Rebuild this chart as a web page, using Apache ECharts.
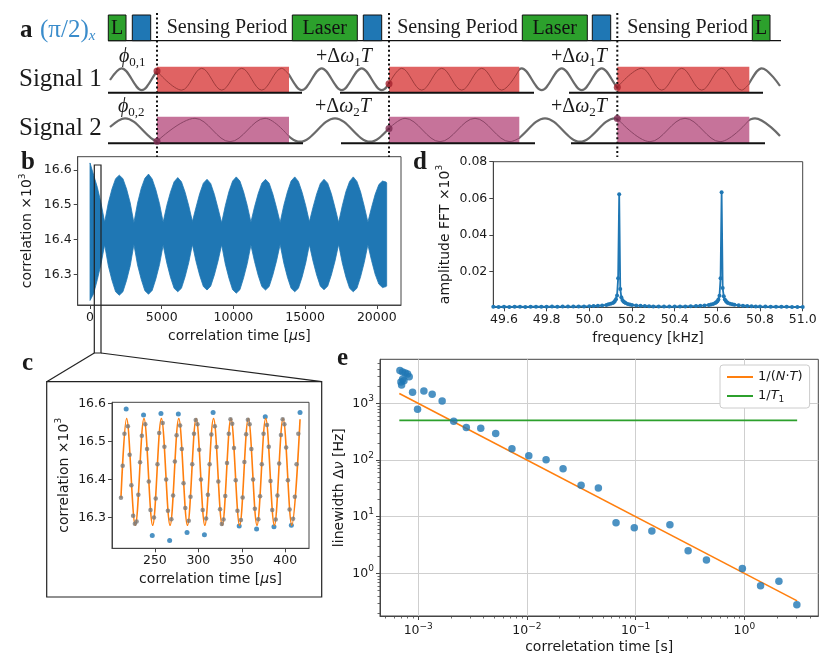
<!DOCTYPE html>
<html><head><meta charset="utf-8">
<script src="https://cdn.jsdelivr.net/npm/echarts@6/dist/echarts.min.js"></script>
<style>html,body{margin:0;padding:0;background:#fff}#chart{width:822px;height:655px}</style>
</head><body><div id="chart"></div>
<script>
// ---------------- DATA ----------------
// Panel a (schematic) — horizontal positions on a hidden 0–822 axis, vertical on a hidden 0–160 axis
const aDottedX = [157, 389, 617.3];
const aLaserBoxes = [[108.3, 126], [292.3, 357.3], [522.3, 587.3], [752.3, 770]];
const aLaserText = ['L', 'Laser', 'Laser', 'L'];
const aMwBoxes = [[132.3, 150.7], [363.3, 381.7], [592.3, 610.7]];
const aSensingCenters = [227, 457.5, 687.5];
const aSensingWindows = [[157, 289], [389, 519.3], [617.3, 749.3]];
const aBaselines1 = [[108, 302], [340, 534], [569, 763]];
const aBaselines2 = [[108, 303], [341, 535], [571, 765]];
const aTimeline = [[108, 40.7], [781, 40.7]];
// waves: extremes (x, y)
const sig1Wave = [[110,80],[121.7,68.3],[141.7,90.1],[161.7,68.3],[181.7,90.1],[201.7,68.3],[221.7,90.1],[241.7,68.3],[261.7,90.1],[281.7,68.3],[301.7,90.1],[321.7,68.3],[341.7,90.1],[361.7,68.3],[381.7,90.1],[401.7,68.3],[421.7,90.1],[441.7,68.3],[461.7,90.1],[481.7,68.3],[501.7,90.1],[521.7,68.3],[541.7,90.1],[561.7,68.3],[581.7,90.1],[601.7,68.3],[621.7,90.1],[641.7,68.3],[661.7,90.1],[681.7,68.3],[701.7,90.1],[721.7,68.3],[741.7,90.1],[761.7,68.3],[780,86]];
const sig1Inner = [
  [[157,71.1],[181.7,90.1],[201.7,68.3],[221.7,90.1],[241.7,68.3],[261.7,90.1],[281.7,68.3],[289,74.7]],
  [[389,83.7],[401.7,68.3],[421.7,90.1],[441.7,68.3],[461.7,90.1],[481.7,68.3],[501.7,90.1],[519.3,69.5]],
  [[617.3,87.3],[641.7,68.3],[661.7,90.1],[681.7,68.3],[701.7,90.1],[721.7,68.3],[741.7,90.1],[749.3,83.7]]
];
const sig2Wave = [[110,127],[125,118.3],[160,141.7],[195,118.3],[230,141.7],[265,118.3],[300,141.7],[335,118.3],[370,141.7],[405,118.3],[440,141.7],[475,118.3],[510,141.7],[545,118.3],[580,141.7],[615,118.3],[650,141.7],[685,118.3],[720,141.7],[755,118.3],[780,136]];
const sig2Inner = [
  [[157,141.3],[195,118.3],[230,141.7],[265,118.3],[289,136.5]],
  [[389,128.5],[405,118.3],[440,141.7],[475,118.3],[510,141.7],[519.3,138.1]],
  [[617.3,118.5],[650,141.7],[685,118.3],[720,141.7],[749.3,119.9]]
];
const sig1Dots = [[157,71.1],[389,83.7],[617.3,87.3]];
const sig2Dots = [[157,141.3],[389,128.5],[617.3,118.5]];

// Panel b — envelope of the dense correlation trace: [time µs, upper, lower]
const bBand = [[0,16.620,16.225],[255,16.585,16.245],[510,16.550,16.285],[765,16.505,16.330],[1020,16.450,16.385],
[1275,16.505,16.325],[1530,16.545,16.283],[1785,16.575,16.250],[2040,16.585,16.240],[2295,16.575,16.250],[2550,16.545,16.283],[2805,16.505,16.325],[3060,16.448,16.386],
[3315,16.505,16.327],[3570,16.547,16.286],[3825,16.576,16.253],[4080,16.588,16.243],[4335,16.574,16.254],[4590,16.543,16.287],[4845,16.503,16.328],[5100,16.450,16.384],
[5355,16.498,16.333],[5610,16.536,16.292],[5865,16.566,16.260],[6120,16.578,16.250],[6375,16.566,16.260],[6630,16.536,16.293],[6885,16.497,16.334],[7140,16.452,16.386],
[7395,16.493,16.337],[7650,16.532,16.297],[7905,16.562,16.265],[8160,16.573,16.255],[8415,16.561,16.266],[8670,16.530,16.298],[8925,16.490,16.338],[9180,16.448,16.385],
[9435,16.497,16.330],[9690,16.538,16.289],[9945,16.568,16.256],[10200,16.580,16.246],[10455,16.568,16.256],[10710,16.537,16.290],[10965,16.498,16.331],[11220,16.450,16.384],
[11475,16.494,16.337],[11730,16.532,16.297],[11985,16.562,16.265],[12240,16.573,16.255],[12495,16.562,16.265],[12750,16.531,16.298],[13005,16.492,16.338],[13260,16.449,16.386],
[13515,16.498,16.333],[13770,16.537,16.292],[14025,16.568,16.260],[14280,16.580,16.250],[14535,16.567,16.260],[14790,16.536,16.292],[15045,16.497,16.333],[15300,16.451,16.385],
[15555,16.493,16.338],[15810,16.531,16.298],[16065,16.561,16.266],[16320,16.573,16.256],[16575,16.562,16.266],[16830,16.532,16.298],[17085,16.492,16.338],[17340,16.449,16.386],
[17595,16.497,16.333],[17850,16.538,16.292],[18105,16.567,16.260],[18360,16.580,16.250],[18615,16.567,16.260],[18870,16.537,16.293],[19125,16.496,16.334],[19380,16.450,16.385],
[19635,16.492,16.340],[19890,16.530,16.300],[20145,16.558,16.272],[20400,16.568,16.262],[20655,16.565,16.265],[20690,16.562,16.267]];
const bTicksX = [0, 5000, 10000, 15000, 20000];
const corrTicks = [16.3, 16.4, 16.5, 16.6];

// Panel c — zoomed samples (µs, correlation ×10^3)
const cGray = [[211,16.352],[213,16.436],[215,16.520],[219,16.540],[221,16.465],[223,16.385],[225,16.305],[227,16.284],[229,16.290],
[231,16.360],[233,16.445],[235,16.515],[239,16.545],[241,16.480],[243,16.395],[245,16.320],[249,16.300],
[251,16.350],[253,16.440],[255,16.522],[259,16.548],[261,16.486],[263,16.400],[265,16.318],[269,16.296],
[271,16.358],[273,16.447],[275,16.516],[279,16.542],[281,16.480],[283,16.390],[285,16.325],[289,16.292],
[291,16.355],[293,16.440],[295,16.520],[297,16.556],[299,16.545],[301,16.478],[303,16.400],[305,16.320],[309,16.298],
[311,16.360],[313,16.440],[315,16.518],[319,16.540],[321,16.485],[323,16.395],[325,16.322],[327,16.283],[329,16.295],
[331,16.357],[333,16.443],[335,16.520],[337,16.558],[339,16.546],[341,16.483],[343,16.398],[345,16.318],[349,16.294],
[351,16.353],[353,16.446],[355,16.519],[357,16.557],[359,16.545],[361,16.480],[363,16.400],[365,16.323],[369,16.296],
[371,16.356],[373,16.440],[375,16.520],[379,16.543],[381,16.486],[383,16.396],[385,16.320],[389,16.295],
[391,16.358],[393,16.442],[395,16.517],[397,16.558],[399,16.545],[401,16.484],[403,16.398],[405,16.321],[409,16.297],
[411,16.355],[413,16.440],[415,16.520]];
const cBlue = [[217,16.585],[237,16.569],[247,16.253],[257,16.573],[267,16.240],[277,16.572],[287,16.261],[307,16.255],[317,16.576],[347,16.278],[367,16.270],[377,16.565],[387,16.276],[407,16.280],[417,16.576]];
const cFit = [[211,16.352],[217.5,16.56],[227.5,16.28],[237.5,16.56],[247.5,16.28],[257.5,16.56],[267.5,16.28],[277.5,16.56],[287.5,16.28],[297.5,16.56],[307.5,16.28],[317.5,16.56],[327.5,16.28],[337.5,16.56],[347.5,16.28],[357.5,16.56],[367.5,16.28],[377.5,16.56],[387.5,16.28],[397.5,16.56],[407.5,16.28],[417,16.558]];
const cTicksX = [250, 300, 350, 400];

// Panel d — FFT amplitude (kHz, ×10^3)
const dFFT = [[49.55,0.0008],[49.575,0.0007],[49.6,0.0008],[49.625,0.0007],[49.65,0.0008],[49.675,0.0008],[49.7,0.0007],[49.725,0.0008],[49.75,0.0008],[49.775,0.0008],[49.8,0.0008],[49.825,0.0009],[49.85,0.0008],[49.875,0.0009],[49.9,0.0009],[49.925,0.0009],[49.95,0.001],[49.975,0.001],[50.0,0.0011],
[50.02,0.0012],[50.04,0.0013],[50.06,0.0015],[50.08,0.0018],[50.09,0.0021],[50.10,0.0024],[50.11,0.0029],[50.115,0.0033],[50.12,0.0039],[50.125,0.0049],[50.13,0.0070],[50.135,0.0163],[50.14,0.0622],[50.145,0.0105],[50.15,0.0060],[50.155,0.0045],[50.16,0.0037],[50.165,0.0032],[50.17,0.0028],[50.18,0.0023],[50.19,0.0020],[50.2,0.0018],
[50.22,0.0015],[50.24,0.0013],[50.26,0.0012],[50.28,0.0011],[50.3,0.001],[50.325,0.001],[50.35,0.0009],[50.375,0.0009],[50.4,0.0009],[50.425,0.001],[50.45,0.001],[50.475,0.0011],[50.5,0.0012],
[50.52,0.0013],[50.54,0.0015],[50.56,0.0018],[50.57,0.002],[50.58,0.0023],[50.59,0.0028],[50.595,0.0032],[50.6,0.0038],[50.605,0.0048],[50.61,0.0068],[50.615,0.0163],[50.62,0.0633],[50.625,0.011],[50.63,0.0065],[50.635,0.0048],[50.64,0.0039],[50.645,0.0033],[50.65,0.0029],[50.66,0.0024],[50.67,0.0021],[50.68,0.0019],
[50.7,0.0016],[50.72,0.0014],[50.74,0.0012],[50.76,0.0011],[50.78,0.001],[50.8,0.0009],[50.825,0.0009],[50.85,0.0008],[50.875,0.0008],[50.9,0.0008],[50.925,0.0008],[50.95,0.0007],[50.975,0.0007],[51.0,0.0007]];
const dTicksX = [49.6, 49.8, 50.0, 50.2, 50.4, 50.6, 50.8, 51.0];
const dTicksY = [0.02, 0.04, 0.06, 0.08];

// Panel e — linewidth vs correlation time (s, Hz)
const eWidth = [[6.79e-4,3770],[7.18e-4,3570],[7.6e-4,3430],[7.98e-4,3300],[8.26e-4,2950],[7.18e-4,2650],[6.93e-4,2380],[7.03e-4,2110],[7.39e-4,2510],
[8.87e-4,1560],[9.86e-4,783],[1.127e-3,1650],[1.344e-3,1443],[1.66e-3,1100],[2.12e-3,481],[2.77e-3,373],[3.76e-3,362],[5.16e-3,292],[7.28e-3,158],
[1.04e-2,119],[1.50e-2,101],[2.15e-2,70],[3.15e-2,35.7],[4.54e-2,32],[6.6e-2,7.83],[9.72e-2,6.4],[0.141,5.58],[0.2066,7.22],[0.304,2.51],[0.448,1.72],
[0.959,1.22],[1.41,0.605],[2.08,0.723],[3.04,0.28]];
const eFit = [[6.7e-4,1490],[3.06,0.327]];
const eT1 = [[6.7e-4,500],[3.06,500]];
const eTicksX = [1e-3, 1e-2, 1e-1, 1];
const eTicksY = [1, 10, 100, 1000];

// ---------------- STYLE HELPERS ----------------
const FONT = '"DejaVu Sans", sans-serif';
const SERIF = '"Liberation Serif", "DejaVu Serif", serif';
const C0 = '#1f77b4', C1 = '#ff7f0e', C2 = '#2ca02c';
const TXT = '#1a1a1a', AX = '#444';
const NAME_RICH = {
  sup: {fontSize: 9, lineHeight: 9, verticalAlign: 'top', fontFamily: FONT, color: TXT},
  i: {fontSize: 14, fontStyle: 'italic', fontFamily: FONT, color: TXT, lineHeight: 20}
};
const LABEL_RICH = {sup: {fontSize: 9, lineHeight: 9, verticalAlign: 'top', fontFamily: FONT, color: TXT}};

function numAxis(gi, min, max, ticks, fmt, name, gap) {
  return {
    type: 'value', gridIndex: gi, min: min, max: max,
    name: name, nameLocation: 'middle', nameGap: gap, nameMoveOverlap: false,
    nameTextStyle: {fontFamily: FONT, fontSize: 14, color: TXT, lineHeight: 20, rich: NAME_RICH},
    axisLine: {show: true, onZero: false, lineStyle: {color: AX, width: 1}},
    axisTick: {show: true, length: 4, customValues: ticks, lineStyle: {color: AX, width: 1}},
    axisLabel: {customValues: ticks, formatter: fmt, fontFamily: FONT, fontSize: 12.5, color: TXT, margin: 6},
    splitLine: {show: false}
  };
}
function logFmt(v) {
  const e = Math.log10(v), r = Math.round(e);
  if (Math.abs(e - r) > 1e-6) return '';
  return '10{sup|' + (r < 0 ? '\u2212' + (-r) : r) + '}';
}
function logAxis(gi, min, max, ticks, name, gap) {
  return {
    type: 'log', logBase: 10, gridIndex: gi, min: min, max: max,
    name: name, nameLocation: 'middle', nameGap: gap, nameMoveOverlap: false,
    nameTextStyle: {fontFamily: FONT, fontSize: 14, color: TXT, lineHeight: 20, rich: NAME_RICH},
    axisLine: {show: true, onZero: false, lineStyle: {color: AX, width: 1}},
    axisTick: {show: true, length: 4, customValues: ticks, lineStyle: {color: AX, width: 1}},
    axisLabel: {customValues: ticks, formatter: logFmt, fontFamily: FONT, fontSize: 12.5, color: TXT, margin: 6, lineHeight: 18, rich: LABEL_RICH},
    splitLine: {show: true, lineStyle: {color: '#cfcfcf', width: 1}}
  };
}
function minorTicks(lo, hi) {
  const out = [];
  for (let p = lo; p <= hi; p++) for (let m = 2; m <= 9; m++) out.push(m * Math.pow(10, p));
  return out;
}
function minorLogAxis(gi, min, max, pos) {
  return {
    type: 'log', logBase: 10, gridIndex: gi, min: min, max: max, position: pos,
    axisLine: {show: false}, axisLabel: {show: false}, splitLine: {show: false},
    axisTick: {show: true, length: 2.5, customValues: minorTicks(-4, 4).filter(v => v >= min && v <= max), lineStyle: {color: AX, width: 0.8}}
  };
}
const hiddenX = {type: 'value', gridIndex: 0, min: 0, max: 822, show: false};
const hiddenY = {type: 'value', gridIndex: 0, min: 0, max: 160, inverse: true, show: false};

// schematic renderers (go through the hidden axes)
function rectRenderer(yTop, yBot, fill, stroke) {
  return function (params, api) {
    const p0 = api.coord([api.value(0), yTop]);
    const p1 = api.coord([api.value(1), yBot]);
    return {type: 'rect', shape: {x: p0[0], y: p0[1], width: p1[0] - p0[0], height: p1[1] - p0[1]},
      style: {fill: fill, stroke: stroke || null, lineWidth: stroke ? 1 : 0}};
  };
}
function segRenderer(y, color, width, dash) {
  return function (params, api) {
    const p0 = api.coord([api.value(0), y]);
    const p1 = api.coord([api.value(1), y]);
    return {type: 'line', shape: {x1: p0[0], y1: p0[1], x2: p1[0], y2: p1[1]}, style: {stroke: color, lineWidth: width, lineDash: dash || null}};
  };
}
function schematicLine(data, color, width, z) {
  return {type: 'line', xAxisIndex: 0, yAxisIndex: 0, data: data, smooth: 0.36, symbol: 'none', z: z,
    lineStyle: {color: color, width: width}, silent: true};
}
function T(x, y, text, font, extra) {
  return {type: 'text', x: x, y: y, silent: true, z: 100,
    style: Object.assign({text: text, font: font, fill: TXT, align: 'left', verticalAlign: 'middle'}, extra || {})};
}
const SUBRICH = (base) => ({
  i: {font: 'italic ' + base + 'px ' + SERIF, lineHeight: base + 4},
  s: {font: Math.round(base * 0.65) + 'px ' + SERIF, lineHeight: 10, verticalAlign: 'bottom'}
});

// ---------------- SERIES ----------------
const series = [];
// panel a
series.push({type: 'line', xAxisIndex: 0, yAxisIndex: 0, data: aTimeline, symbol: 'none', z: 3, silent: true, lineStyle: {color: '#111', width: 1.3}});
series.push({type: 'custom', xAxisIndex: 0, yAxisIndex: 0, data: aLaserBoxes, z: 4, silent: true,
  renderItem: function (params, api) {
    const p0 = api.coord([api.value(0), 15]);
    const p1 = api.coord([api.value(1), 40.7]);
    return {type: 'group', children: [
      {type: 'rect', shape: {x: p0[0], y: p0[1], width: p1[0] - p0[0], height: p1[1] - p0[1]}, style: {fill: C2, stroke: '#111', lineWidth: 1}},
      {type: 'text', x: (p0[0] + p1[0]) / 2, y: (p0[1] + p1[1]) / 2 + 1,
        style: {text: aLaserText[params.dataIndex], font: '20px ' + SERIF, fill: '#111', align: 'center', verticalAlign: 'middle'}}
    ]};
  }});
series.push({type: 'custom', xAxisIndex: 0, yAxisIndex: 0, data: aMwBoxes, z: 4, silent: true, renderItem: rectRenderer(15, 40.7, C0, '#111')});
series.push({type: 'custom', xAxisIndex: 0, yAxisIndex: 0, data: aSensingCenters.map(x => [x]), z: 4, silent: true,
  renderItem: function (params, api) {
    const p = api.coord([api.value(0), 28]);
    return {type: 'text', x: p[0], y: p[1], style: {text: 'Sensing Period', font: '20px ' + SERIF, fill: TXT, align: 'center', verticalAlign: 'middle'}};
  }});
series.push(schematicLine(sig1Wave, '#6a6a6a', 2.2, 2));
series.push(schematicLine(sig2Wave, '#6a6a6a', 2.2, 2));
series.push({type: 'custom', xAxisIndex: 0, yAxisIndex: 0, data: aSensingWindows, z: 3, silent: true, renderItem: rectRenderer(66.7, 92.7, '#e06363')});
series.push({type: 'custom', xAxisIndex: 0, yAxisIndex: 0, data: aSensingWindows, z: 3, silent: true, renderItem: rectRenderer(116.7, 143.3, '#c6739a')});
sig1Inner.forEach(seg => series.push(schematicLine(seg, '#9e3b3b', 1, 4)));
sig2Inner.forEach(seg => series.push(schematicLine(seg, '#8a4566', 1, 4)));
series.push({type: 'custom', xAxisIndex: 0, yAxisIndex: 0, data: aBaselines1, z: 5, silent: true, renderItem: segRenderer(92.7, '#111', 2)});
series.push({type: 'custom', xAxisIndex: 0, yAxisIndex: 0, data: aBaselines2, z: 5, silent: true, renderItem: segRenderer(143.3, '#111', 2)});
series.push({type: 'custom', xAxisIndex: 0, yAxisIndex: 0, data: aDottedX.map(x => [x]), z: 7, silent: true,
  renderItem: function (params, api) {
    const p0 = api.coord([api.value(0), 13]);
    const p1 = api.coord([api.value(0), 157]);
    return {type: 'line', shape: {x1: p0[0], y1: p0[1], x2: p1[0], y2: p1[1]}, style: {stroke: '#111', lineWidth: 2, lineDash: [2, 2.6]}};
  }});
series.push({type: 'scatter', xAxisIndex: 0, yAxisIndex: 0, data: sig1Dots, symbolSize: 7, z: 8, silent: true, itemStyle: {color: '#a3212c'}});
series.push({type: 'scatter', xAxisIndex: 0, yAxisIndex: 0, data: sig2Dots, symbolSize: 7, z: 8, silent: true, itemStyle: {color: '#7a2a50'}});

// panel b — the dense trace rendered as its filled envelope (one polygon through the scale)
series.push({type: 'custom', xAxisIndex: 1, yAxisIndex: 1, data: bBand, encode: {x: 0, y: [1, 2]}, silent: true, z: 2,
  renderItem: function (params, api) {
    if (params.dataIndex !== 0) return null;
    const up = bBand.map(r => api.coord([r[0], r[1]]));
    const lo = bBand.map(r => api.coord([r[0], r[2]])).reverse();
    return {type: 'polygon', shape: {points: up.concat(lo)}, style: {fill: C0, stroke: C0, lineWidth: 0.8}};
  }});

// panel c
series.push({type: 'scatter', xAxisIndex: 2, yAxisIndex: 2, data: cBlue, symbolSize: 5, z: 2, silent: true, itemStyle: {color: C0}});
series.push({type: 'line', xAxisIndex: 2, yAxisIndex: 2, data: cFit, smooth: 0.36, symbol: 'none', z: 3, silent: true, lineStyle: {color: C1, width: 1.6}});
series.push({type: 'scatter', xAxisIndex: 2, yAxisIndex: 2, data: cGray, symbolSize: 4.5, z: 4, silent: true, itemStyle: {color: '#7a7a7a'}});

// panel d
series.push({type: 'line', xAxisIndex: 3, yAxisIndex: 3, data: dFFT, symbol: 'circle', symbolSize: 4, showSymbol: true, silent: true,
  lineStyle: {color: C0, width: 1.8}, itemStyle: {color: C0}});

// panel e
series.push({name: '1/(N·T)', type: 'line', xAxisIndex: 4, yAxisIndex: 4, data: eFit, symbol: 'none', z: 3, silent: true, lineStyle: {color: C1, width: 1.6}, itemStyle: {color: C1}});
series.push({name: '1/T1', type: 'line', xAxisIndex: 4, yAxisIndex: 4, data: eT1, symbol: 'none', z: 3, silent: true, lineStyle: {color: C2, width: 1.6}, itemStyle: {color: C2}});
series.push({type: 'scatter', xAxisIndex: 4, yAxisIndex: 4, data: eWidth, symbolSize: 7.5, z: 4, silent: true, itemStyle: {color: C0}});

// ---------------- GRAPHIC (labels & annotations) ----------------
const graphic = [
  T(20, 31, 'a', 'bold 25px ' + SERIF),
  T(21, 162.5, 'b', 'bold 25px ' + SERIF),
  T(22, 364, 'c', 'bold 25px ' + SERIF),
  T(413, 162.5, 'd', 'bold 25px ' + SERIF),
  T(337, 359, 'e', 'bold 25px ' + SERIF),
  T(40, 30, '(π/2){s|x}', '25px ' + SERIF, {fill: '#3a8ccb', lineHeight: 28,
    rich: {s: {font: 'italic 15px ' + SERIF, fill: '#3a8ccb', lineHeight: 12, verticalAlign: 'bottom'}}}),
  T(19, 79, 'Signal 1', '25px ' + SERIF),
  T(19, 128, 'Signal 2', '25px ' + SERIF),
  T(119, 57, '{i|ϕ}{s|0,1}', '20px ' + SERIF, {lineHeight: 24, rich: SUBRICH(20)}),
  T(118, 107, '{i|ϕ}{s|0,2}', '20px ' + SERIF, {lineHeight: 24, rich: SUBRICH(20)}),
  T(316, 57, '+Δ{i|ω}{s|1}{i|T}', '20px ' + SERIF, {lineHeight: 24, rich: SUBRICH(20)}),
  T(315, 107, '+Δ{i|ω}{s|2}{i|T}', '20px ' + SERIF, {lineHeight: 24, rich: SUBRICH(20)}),
  T(551, 57, '+Δ{i|ω}{s|1}{i|T}', '20px ' + SERIF, {lineHeight: 24, rich: SUBRICH(20)}),
  T(551, 107, '+Δ{i|ω}{s|2}{i|T}', '20px ' + SERIF, {lineHeight: 24, rich: SUBRICH(20)}),
  {type: 'rect', silent: true, z: 50, shape: {x: 94.3, y: 165, width: 6.7, height: 188}, style: {fill: null, stroke: '#222', lineWidth: 1.2}},
  {type: 'line', silent: true, z: 50, shape: {x1: 94.3, y1: 353, x2: 46.7, y2: 381.7}, style: {stroke: '#222', lineWidth: 1.2}},
  {type: 'line', silent: true, z: 50, shape: {x1: 101, y1: 353, x2: 321.7, y2: 381.7}, style: {stroke: '#222', lineWidth: 1.2}},
  {type: 'rect', silent: true, z: 50, shape: {x: 46.7, y: 381.7, width: 275, height: 215.3}, style: {fill: null, stroke: '#222', lineWidth: 1.2}}
];

// ---------------- OPTION ----------------
const gridBox = {show: true, borderColor: AX, borderWidth: 1, backgroundColor: 'transparent', containLabel: false, outerBoundsMode: 'none'};
const option = {
  animation: false,
  backgroundColor: '#fff',
  grid: [
    {left: 0, top: 0, width: 822, height: 160, show: false, containLabel: false, outerBoundsMode: 'none'},
    Object.assign({left: 77.7, top: 156.7, width: 323.3, height: 148.3}, gridBox),
    Object.assign({left: 112, top: 402.3, width: 197, height: 146}, gridBox),
    Object.assign({left: 493.3, top: 161.7, width: 309.4, height: 145.6}, gridBox),
    Object.assign({left: 380, top: 359.3, width: 438.3, height: 256.7}, gridBox)
  ],
  xAxis: [
    hiddenX,
    numAxis(1, -860, 21690, bTicksX, v => String(v), 'correlation time [{i|μ}s]', 21),
    numAxis(2, 200.7, 427.3, cTicksX, v => String(v), 'correlation time [{i|μ}s]', 21),
    numAxis(3, 49.55, 51.0, dTicksX, v => v.toFixed(1), 'frequency [kHz]', 21),
    logAxis(4, 4.45e-4, 4.79, eTicksX, 'correletation time [s]', 21),
    minorLogAxis(4, 4.45e-4, 4.79, 'bottom')
  ],
  yAxis: [
    hiddenY,
    numAxis(1, 16.212, 16.638, corrTicks, v => v.toFixed(1), 'correlation ×10{sup|3}', 40),
    numAxis(2, 16.2195, 16.6026, corrTicks, v => v.toFixed(1), 'correlation ×10{sup|3}', 38),
    numAxis(3, 0.0005, 0.08, dTicksY, v => v.toFixed(2), 'amplitude FFT ×10{sup|3}', 38),
    logAxis(4, 0.1766, 5970, eTicksY, 'linewidth Δ{i|ν} [Hz]', 31),
    minorLogAxis(4, 0.1766, 5970, 'left')
  ],
  legend: {
    show: true, left: 720, top: 365, orient: 'vertical', icon: 'rect', itemWidth: 26, itemHeight: 2, itemGap: 3,
    padding: [4, 7, 4, 7], borderColor: '#cccccc', borderWidth: 1, borderRadius: 3, backgroundColor: '#ffffff',
    selectedMode: false, data: ['1/(N·T)', '1/T1'],
    formatter: n => n === '1/T1' ? '1/{i|T}{s|1}' : '1/({i|N}·{i|T})',
    textStyle: {fontFamily: FONT, fontSize: 13, color: TXT, lineHeight: 16,
      rich: {i: {fontFamily: FONT, fontSize: 13, fontStyle: 'italic', color: TXT, lineHeight: 16},
             s: {fontFamily: FONT, fontSize: 9, color: TXT, lineHeight: 8, verticalAlign: 'bottom'}}}
  },
  graphic: graphic,
  series: series
};
const chart = echarts.init(document.getElementById('chart'), null, {renderer: 'canvas', width: 822, height: 655});
chart.setOption(option);
</script></body></html>
